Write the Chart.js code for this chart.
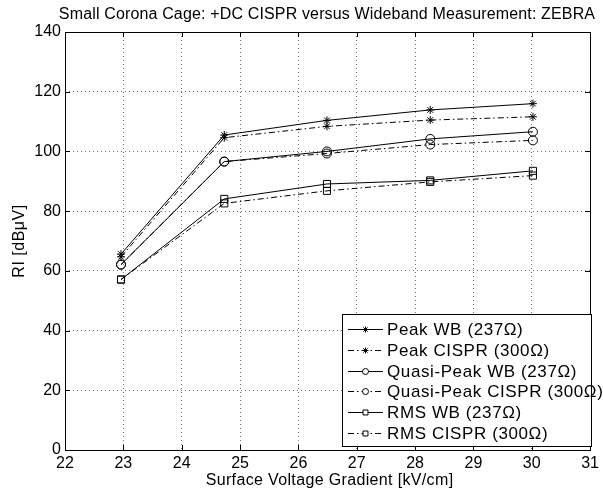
<!DOCTYPE html>
<html>
<head>
<meta charset="utf-8">
<script src="https://cdn.jsdelivr.net/npm/chart.js@4/dist/chart.umd.min.js"></script>
<style>
  html, body { margin: 0; padding: 0; background: #fff; }
  #wrap { width: 603px; height: 493px; }
</style>
</head>
<body>
<div id="wrap"><canvas id="riChart" width="603" height="493"></canvas></div>
<script>
// Data
const gradient = [22.96, 24.73, 26.49, 28.26, 30.02];
const peakWB = [65.6, 105.5, 110.4, 113.9, 116.0];
const peakCISPR = [64.7, 104.6, 108.4, 110.5, 111.6];
const qpWB = [62.1, 96.6, 100.0, 104.2, 106.6];
const qpCISPR = [62.1, 96.6, 99.3, 102.3, 103.7];
const rmsWB = [57.1, 84.1, 89.1, 90.3, 93.5];
const rmsCISPR = [57.1, 82.6, 86.8, 89.8, 91.9];

const seriesLabels = ['Peak WB (237\u03A9)', 'Peak CISPR (300\u03A9)', 'Quasi-Peak WB (237\u03A9)',
                      'Quasi-Peak CISPR (300\u03A9)', 'RMS WB (237\u03A9)', 'RMS CISPR (300\u03A9)'];
const xTicks = [22, 23, 24, 25, 26, 27, 28, 29, 30, 31];
const yTicks = [0, 20, 40, 60, 80, 100, 120, 140];

const FONT = 'Arial, "Liberation Sans", Helvetica, sans-serif';
const DASHDOT = [6, 3, 1.5, 3];

const toPoints = (vals) => vals.map((v, i) => ({ x: gradient[i], y: v }));

function series(label, vals, marker, dashed) {
    return {
        label: label,
        data: toPoints(vals),
        borderColor: '#000',
        backgroundColor: '#fff',
        borderWidth: 1,
        borderDash: dashed ? DASHDOT : [],
        pointStyle: marker,
        pointRadius: marker === 'rect' ? 5 : (marker === 'star' ? 4 : 4.5),
        pointBorderColor: '#000',
        pointBackgroundColor: 'rgba(255,255,255,0)',
        pointBorderWidth: 1,
        tension: 0,
        fill: false
    };
}

// box, inward ticks, titles and the in-plot legend
const framePlugin = {
    id: 'frame',
    afterDatasetsDraw(chart) {
        const { ctx, chartArea: a, scales } = chart;
        ctx.save();
        ctx.strokeStyle = '#000';
        ctx.lineWidth = 1;
        ctx.setLineDash([]);
        ctx.beginPath();
        xTicks.forEach(t => {
            const x = Math.round(scales.x.getPixelForValue(t)) + 0.5;
            ctx.moveTo(x, a.bottom); ctx.lineTo(x, a.bottom - 5);
            ctx.moveTo(x, a.top); ctx.lineTo(x, a.top + 5);
        });
        yTicks.forEach(t => {
            const y = Math.round(scales.y.getPixelForValue(t)) + 0.5;
            ctx.moveTo(a.left, y); ctx.lineTo(a.left + 5, y);
            ctx.moveTo(a.right, y); ctx.lineTo(a.right - 5, y);
        });
        ctx.stroke();
        ctx.strokeRect(Math.round(a.left) + 0.5, Math.round(a.top) + 0.5,
                       Math.round(a.right - a.left), Math.round(a.bottom - a.top));

        // legend
        const lx = 342, ly = 314, lw = 249, lh = 132;
        ctx.fillStyle = '#fff';
        ctx.fillRect(lx, ly, lw, lh);
        ctx.strokeRect(lx + 0.5, ly + 0.5, lw, lh);
        ctx.font = '17px ' + FONT;
        ctx.letterSpacing = '0.6px';
        ctx.textBaseline = 'middle';
        ctx.textAlign = 'left';
        chart.data.datasets.forEach((ds, i) => {
            const y = Math.round(ly + 15 + i * 20.8);
            ctx.setLineDash(ds.borderDash);
            ctx.strokeStyle = '#000';
            ctx.beginPath();
            ctx.moveTo(348, y + 0.5); ctx.lineTo(383, y + 0.5);
            ctx.stroke();
            ctx.setLineDash([]);
            Chart.helpers.drawPoint(ctx, {
                pointStyle: ds.pointStyle,
                radius: ds.pointStyle === 'rect' ? 3.5 : 3,
                borderWidth: 1,
                rotation: 0
            }, 365.5, y + 0.5);
            ctx.fillStyle = '#000';
            ctx.fillText(ds.label, 387, y + 1);
            ctx.fillStyle = '#fff';
        });

        ctx.fillStyle = '#000';
        ctx.textAlign = 'center';
        ctx.textBaseline = 'middle';

        // title
        ctx.font = '16px ' + FONT;
        ctx.letterSpacing = '0.15px';
        ctx.fillText('Small Corona Cage: +DC CISPR versus Wideband Measurement: ZEBRA', 327, 15);

        // x axis title
        ctx.letterSpacing = '0.35px';
        ctx.fillText('Surface Voltage Gradient [kV/cm]', (a.left + a.right) / 2 + 2, 481);

        // y axis title
        ctx.translate(20, (a.top + a.bottom) / 2);
        ctx.rotate(-Math.PI / 2);
        ctx.letterSpacing = '0.5px';
        ctx.fillText('RI [dB\u03BCV]', 0, 0);
        ctx.restore();
    }
};

const ctx = document.getElementById('riChart').getContext('2d');
new Chart(ctx, {
    type: 'line',
    data: {
        datasets: [
            series(seriesLabels[0], peakWB, 'star', false),
            series(seriesLabels[1], peakCISPR, 'star', true),
            series(seriesLabels[2], qpWB, 'circle', false),
            series(seriesLabels[3], qpCISPR, 'circle', true),
            series(seriesLabels[4], rmsWB, 'rect', false),
            series(seriesLabels[5], rmsCISPR, 'rect', true)
        ]
    },
    options: {
        responsive: false,
        animation: false,
        layout: { padding: { top: 32, right: 8, left: 0, bottom: 0 } },
        plugins: {
            legend: { display: false },
            tooltip: { enabled: false },
            title: { display: false }
        },
        scales: {
            x: {
                type: 'linear',
                min: 22,
                max: 31,
                afterFit: (s) => { s.height = 43; },
                afterBuildTicks: (s) => { s.ticks = xTicks.map(v => ({ value: v })); },
                grid: { color: 'rgba(0,0,0,0.55)', drawTicks: false, lineWidth: 1 },
                border: { display: false, dash: [1, 3] },
                ticks: { color: '#000', font: { family: FONT, size: 16 }, padding: 4 },
                title: { display: false }
            },
            y: {
                type: 'linear',
                min: 0,
                max: 140,
                afterFit: (s) => { s.width = 65; },
                afterBuildTicks: (s) => { s.ticks = yTicks.map(v => ({ value: v })); },
                grid: { color: 'rgba(0,0,0,0.55)', drawTicks: false, lineWidth: 1 },
                border: { display: false, dash: [1, 3] },
                ticks: { color: '#000', font: { family: FONT, size: 16 }, padding: 4 },
                title: { display: false }
            }
        }
    },
    plugins: [framePlugin]
});
</script>
</body>
</html>
